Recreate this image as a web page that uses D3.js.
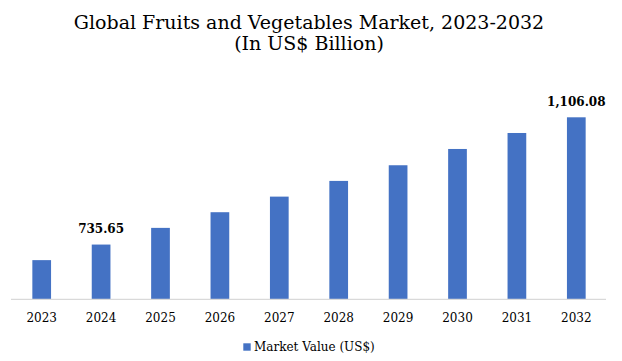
<!DOCTYPE html>
<html>
<head>
<meta charset="utf-8">
<script src="https://cdn.jsdelivr.net/npm/d3@7/dist/d3.min.js"></script>
<style>
  html, body { margin: 0; padding: 0; background: #ffffff; }
  svg { display: block; }
</style>
</head>
<body>
<div id="chart"></div>
<script>
const years = ["2023", "2024", "2025", "2026", "2027", "2028", "2029", "2030", "2031", "2032"];
const marketValue = [690.3, 735.65, 784.2, 829.8, 875.2, 920.9, 966.5, 1013.9, 1060.4, 1106.08];
const labelledYears = ["2024", "2032"];
const titleLines = ["Global Fruits and Vegetables Market, 2023-2032", "(In US$ Billion)"];
const seriesName = "Market Value (US$)";

const W = 622, H = 361;
const serif = "'DejaVu Serif', 'Liberation Serif', serif";
const barColor = "#4472C4";

const svg = d3.select("#chart").append("svg")
  .attr("width", W).attr("height", H)
  .attr("viewBox", `0 0 ${W} ${H}`);

svg.append("rect").attr("width", W).attr("height", H).attr("fill", "#fff");

// Title
const title = svg.append("text")
  .attr("text-anchor", "middle")
  .attr("font-family", serif)
  .attr("font-size", 19)
  .attr("fill", "#000");
title.selectAll("tspan").data(titleLines).join("tspan")
  .attr("x", 309)
  .attr("y", (d, i) => 29.3 + i * 21)
  .text(d => d);

// Scales
const x = d3.scaleBand()
  .domain(years)
  .range([12, 606])
  .paddingInner(0.685)
  .paddingOuter(0.3425);

const baseline = 299.3;
const y = d3.scaleLinear()
  .domain([576.3, 1106.08])
  .range([baseline, 117.3]);

// Bars
svg.append("g").selectAll("rect")
  .data(years.map((yr, i) => ({ yr, v: marketValue[i] })))
  .join("rect")
  .attr("x", d => x(d.yr))
  .attr("width", x.bandwidth())
  .attr("y", d => y(d.v))
  .attr("height", d => baseline - y(d.v))
  .attr("fill", barColor);

// Axis
const axis = svg.append("g")
  .attr("transform", `translate(0,${baseline})`)
  .call(d3.axisBottom(x).tickSize(0).tickPadding(13.7));
axis.select(".domain").attr("stroke", "#d9d9d9").attr("stroke-width", 1.3)
  .attr("d", "M11,0H606");
axis.selectAll(".tick text")
  .attr("font-family", serif)
  .attr("font-size", 12)
  .attr("fill", "#000");

// Data labels
const fmt = d3.format(",.2f");
svg.append("g").selectAll("text")
  .data(years.map((yr, i) => ({ yr, v: marketValue[i] })).filter(d => labelledYears.includes(d.yr)))
  .join("text")
  .attr("x", d => x(d.yr) + x.bandwidth() / 2)
  .attr("y", d => y(d.v) - 11.3)
  .attr("text-anchor", "middle")
  .attr("font-family", serif)
  .attr("font-weight", "bold")
  .attr("font-size", 12)
  .attr("fill", "#000")
  .text(d => fmt(d.v));

// Legend
const lg = svg.append("g").attr("transform", "translate(243.3,343.3)");
lg.append("rect").attr("width", 7.4).attr("height", 7.4).attr("fill", barColor);
lg.append("text")
  .attr("x", 10.7)
  .attr("y", 7.4)
  .attr("font-family", serif)
  .attr("font-size", 12)
  .attr("fill", "#000")
  .text(seriesName);
</script>
</body>
</html>
